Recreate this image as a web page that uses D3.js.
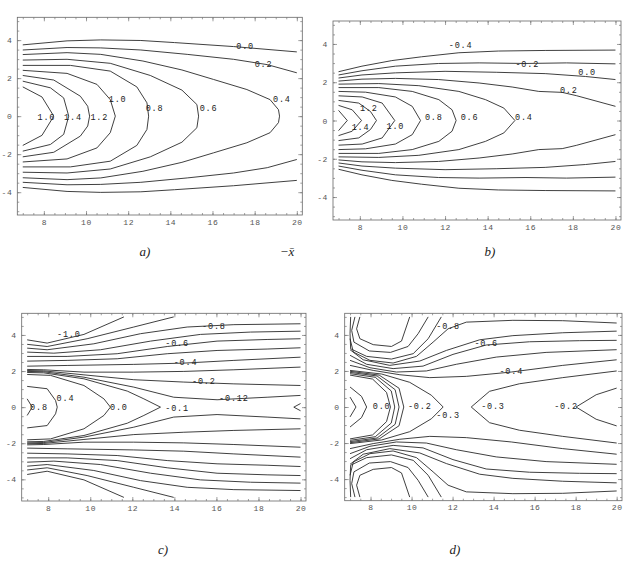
<!DOCTYPE html>
<html><head><meta charset="utf-8">
<script src="https://cdn.jsdelivr.net/npm/d3@7"></script>
<style>body{margin:0;background:#fff}</style>
</head><body>
<script>
// ---------- data ----------
const xTicks = [8, 10, 12, 14, 16, 18, 20];
const yTicks = [-4, -2, 0, 2, 4];
const captionTexts = ["a)", "\u2212x\u0304", "b)", "c)", "d)"];

// upper half of every contour ([x, y] in data units); lower half is its mirror image (symmetric field)
// kind "tip": curve crosses y = 0 at its last point; kind "open": separate upper and lower branches
const contoursA = [
  {level: 0.0, kind: "open", pts: [[7,3.75],[9.1,3.96],[10.7,4.01],[12.6,3.98],[14.2,3.87],[17,3.66],[20,3.38]]},
  {level: 0.2, kind: "open", pts: [[7,3.48],[9.1,3.61],[10.7,3.59],[12.6,3.48],[14.8,3.25],[17,2.99],[18.6,2.71],[20,2.28]]},
  {level: 0.4, kind: "tip", pts: [[7,3.24],[9.1,3.34],[10.7,3.25],[12.7,2.9],[14.55,2.43],[16.05,1.93],[17.63,1.40],[18.73,0.87],[19.13,0.34],[19.18,0]]},
  {level: 0.6, kind: "tip", pts: [[7,2.95],[9.1,2.99],[11.15,2.78],[13.05,2.14],[14.55,1.37],[15.26,0.61],[15.34,0]]},
  {level: 0.8, kind: "tip", pts: [[7,2.67],[9.26,2.67],[11.15,2.37],[12.41,1.54],[12.89,0.70],[12.97,0]]},
  {level: 1.0, kind: "tip", pts: [[7,2.41],[9.1,2.25],[10.52,1.67],[11.15,0.87],[11.39,0]]},
  {level: 1.2, kind: "tip", pts: [[7,2.14],[8.47,1.90],[9.73,1.05],[10.08,0.52],[10.17,0]]},
  {level: 1.4, kind: "tip", pts: [[7,1.84],[8.31,1.49],[8.94,0.96],[9.18,0]]},
  {level: 1.6, kind: "tip", pts: [[7,1.54],[7.91,1.01],[8.47,0]]}
];
const labelsA = [["0.0",17.55,3.66],["0.2",18.42,2.71],["0.4",19.29,0.84],["0.6",15.81,0.38],["0.8",13.25,0.38],
  ["1.0",11.5,0.87],["1.2",10.63,-0.1],["1.4",9.38,-0.1],["1.6",8.12,-0.1]];

const contoursB = [
  {level: -0.4, kind: "open", pts: [[7,2.55],[8.1,2.84],[9.5,3.13],[10.9,3.33],[12.65,3.54],[14.5,3.63],[16.7,3.66],[20,3.68]]},
  {level: -0.2, kind: "open", pts: [[7,2.38],[8.1,2.6],[9.67,2.84],[11.7,2.98],[13.6,3.01],[15.8,2.98],[17.7,3.01],[20,2.96]]},
  {level: 0.0, kind: "open", pts: [[7,2.22],[8.1,2.38],[9.67,2.49],[12,2.57],[14.4,2.52],[16.7,2.45],[18.6,2.3],[20,2.14]]},
  {level: 0.2, kind: "open", pts: [[7,2.06],[8.1,2.16],[9.67,2.2],[11.7,2.14],[13.6,1.96],[15.15,1.75],[16.4,1.52],[17.5,1.47],[18.16,1.3],[20,0.74]]},
  {level: 0.4, kind: "tip", pts: [[7,1.90],[8.89,1.93],[10.77,1.82],[12.65,1.52],[13.9,1.09],[14.76,0.65],[15.28,0]]},
  {level: 0.6, kind: "tip", pts: [[7,1.72],[8.89,1.72],[10.46,1.52],[11.71,1.09],[12.33,0.56],[12.52,0]]},
  {level: 0.8, kind: "tip", pts: [[7,1.52],[8.27,1.48],[9.67,1.23],[10.46,0.74],[10.85,0]]},
  {level: 1.0, kind: "tip", pts: [[7,1.29],[8.11,1.23],[9.05,0.91],[9.64,0]]},
  {level: 1.2, kind: "tip", pts: [[7,1.05],[7.95,0.91],[8.5,0.47],[8.78,0]]},
  {level: 1.4, kind: "tip", pts: [[7,0.79],[7.64,0.56],[8.08,0]]},
  {level: 1.6, kind: "tip", pts: [[7,0.53],[7.41,0]]}
];
const labelsB = [["-0.4",12.73,3.89],["-0.2",15.86,2.92],["0.0",18.67,2.49],["0.2",17.81,1.52],["1.2",8.42,0.6],
  ["1.4",8.03,-0.4],["1.0",9.67,-0.35],["0.8",11.47,0.12],["0.6",13.15,0.12],["0.4",15.7,0.12]];

const contoursC = [
  {level: -1.0, kind: "open", pts: [[7,3.73],[7.95,3.55],[9.7,4.03],[11.6,5.0]]},
  {level: -0.9, kind: "open", pts: [[7,3.48],[7.95,3.36],[9.85,3.79],[12.07,4.44],[13.97,5.0]]},
  {level: -0.8, kind: "open", pts: [[7,3.27],[7.95,3.18],[10.17,3.51],[12.39,4.07],[14.61,4.44],[16.83,4.57],[20,4.62]]},
  {level: -0.7, kind: "open", pts: [[7,3.05],[8.27,2.99],[10.49,3.18],[12.87,3.66],[15.24,4.03],[17.62,4.16],[20,4.21]]},
  {level: -0.6, kind: "open", pts: [[7,2.81],[8.9,2.81],[11.28,2.96],[13.66,3.36],[16.03,3.66],[18.41,3.75],[20,3.79]]},
  {level: -0.5, kind: "open", pts: [[7,2.55],[8.9,2.59],[11.28,2.68],[13.66,2.96],[16.03,3.14],[18.41,3.22],[20,3.29]]},
  {level: -0.4, kind: "open", pts: [[7,2.27],[8.9,2.31],[12.07,2.37],[14.45,2.44],[16.83,2.59],[20,2.77]]},
  {level: -0.3, kind: "open", pts: [[7,2.09],[7.79,2.07],[9.7,1.94],[12.07,1.94],[14.45,1.98],[16.83,2.07],[20,2.22]]},
  {level: -0.2, kind: "open", pts: [[7,2.03],[7.79,2.01],[9.7,1.79],[12.07,1.52],[14.45,1.39],[16.83,1.29],[20,1.2]]},
  {level: -0.12, kind: "open", pts: [[7,1.98],[7.79,1.96],[9.7,1.66],[12.07,1.11],[13.97,0.55],[16.03,0.41],[18.41,0.55],[20,0.65]]},
  {level: -0.1, kind: "tip", pts: [[7,1.92],[7.79,1.90],[9.7,1.57],[11.76,0.89],[12.55,0.46],[13.34,0]]},
  {level: 0.0, kind: "tip", pts: [[7,1.81],[8.11,1.76],[9.7,1.2],[10.65,0.46],[10.96,0]]},
  {level: 0.4, kind: "tip", pts: [[7,1.15],[7.95,1.02],[8.35,0.37],[8.43,0]]},
  {level: 0.8, kind: "tip", pts: [[7,0.46],[7.24,0]]},
  {level: -0.1, kind: "tip", pts: [[20,0.2],[19.68,0]]}
];
const labelsC = [["-1.0",8.98,3.97],["-0.8",15.88,4.44],["-0.6",14.13,3.48],["-0.4",14.53,2.44],["-0.2",15.4,1.42],
  ["-0.12",16.83,0.43],["0.8",7.56,-0.04],["0.4",8.82,0.46],["0.0",11.36,-0.04],["-0.1",14.13,-0.09]];

const contoursD = [
  {level: -1.1, kind: "open", pts: [[7.48,5.0],[7.32,4.34],[7.48,3.79],[8.13,3.46],[9.02,3.36],[9.51,3.66],[9.91,5.0]]},
  {level: -1.0, kind: "open", pts: [[7.24,5.0],[7.08,4.25],[7.19,3.60],[7.94,3.11],[8.97,3.03],[9.83,3.36],[10.32,4.07],[10.81,5.0]]},
  {level: -0.9, kind: "open", pts: [[7.03,5.0],[7,4.07],[7.03,3.23],[7.81,2.81],[9.02,2.66],[10.08,2.96],[10.81,3.79],[11.45,5.0]]},
  {level: -0.8, kind: "open", pts: [[7,3.79],[7.16,3.05],[7.97,2.59],[9.10,2.44],[10.24,2.81],[11.05,3.60],[11.78,4.34],[12.67,4.71],[14.94,4.81],[17.37,4.79],[20,4.66]]},
  {level: -0.7, kind: "open", pts: [[7,3.18],[7.64,2.62],[8.94,2.31],[10.40,2.55],[11.70,3.14],[13.32,3.73],[14.94,3.96],[17.37,4.12],[20,4.21]]},
  {level: -0.6, kind: "open", pts: [[7,2.87],[7.81,2.37],[9.10,2.13],[10.56,2.27],[12.02,2.92],[13.64,3.44],[15.75,3.62],[18.18,3.68],[20,3.70]]},
  {level: -0.5, kind: "open", pts: [[7,2.59],[7.97,2.18],[9.26,1.94],[10.72,2.0],[12.18,2.37],[14.13,2.77],[16.56,3.03],[20,3.18]]},
  {level: -0.4, kind: "open", pts: [[7,2.31],[8.13,2.03],[9.43,1.79],[10.89,1.63],[12.67,1.70],[14.86,1.94],[17.37,2.31],[20,2.62]]},
  {level: -0.3, kind: "tip", pts: [[20,2.0],[17.37,1.63],[15.26,1.29],[13.8,0.87],[12.91,0]]},
  {level: -0.2, kind: "tip", pts: [[20,1.05],[19,0.68],[18.02,0]]},
  {level: -0.2, kind: "tip", pts: [[7,2.03],[8.54,1.83],[9.91,1.37],[10.97,0.65],[11.54,0]]},
  {level: -0.15, kind: "tip", pts: [[7,1.98],[8.42,1.77],[9.39,1.04],[9.62,0]]},
  {level: -0.1, kind: "tip", pts: [[7,1.92],[8.32,1.72],[9.20,0.96],[9.39,0]]},
  {level: -0.05, kind: "tip", pts: [[7,1.85],[8.23,1.65],[9.01,0.89],[9.18,0]]},
  {level: 0.0, kind: "tip", pts: [[7,1.77],[8.10,1.55],[8.78,0.81],[8.97,0]]},
  {level: 0.2, kind: "tip", pts: [[7,1.11],[7.56,0.59],[7.81,0]]},
  {level: 0.4, kind: "tip", pts: [[7,0.55],[7.29,0]]}
];
const labelsD = [["-0.8",11.78,4.44],["-0.6",13.64,3.48],["-0.4",14.86,1.94],["0.0",8.54,0],["-0.2",10.40,0],
  ["-0.3",11.78,-0.52],["-0.3",13.97,0],["-0.2",17.53,0]];

// ---------- layout ----------
const X_DOMAIN = [6.74, 20.26], Y_DOMAIN = [-5.2, 5.2];
const panels = [
  {id: "a", f: {l: 17.3, r: 302.3, t: 17.3, b: 215}, contours: contoursA, labels: labelsA},
  {id: "b", f: {l: 333, r: 621, t: 21, b: 220}, contours: contoursB, labels: labelsB},
  {id: "c", f: {l: 21.7, r: 306, t: 313.3, b: 501}, contours: contoursC, labels: labelsC},
  {id: "d", f: {l: 344.7, r: 622, t: 313.3, b: 500.7}, contours: contoursD, labels: labelsD}
];
const captionPos = [[145, 251], [287, 251], [490, 251], [163, 549], [455, 549]];

const MONO = "'Liberation Mono', 'DejaVu Sans Mono', monospace";
const svg = d3.select("body").append("svg").attr("width", 626).attr("height", 564)
  .style("background", "#fff");

const fmt = d => String(d);
const minorX = d3.range(7, 20.01, 0.5);
const minorY = d3.range(-5, 5.01, 0.5);

function styleAxis(sel, withText) {
  sel.select(".domain").remove();
  sel.selectAll(".tick line").attr("stroke", "#777").attr("stroke-width", 0.7);
  sel.attr("font-family", MONO).attr("font-size", 8);
  sel.selectAll(".tick text").attr("fill", "#555").style("letter-spacing", "0.6px");
  if (!withText) sel.selectAll(".tick text").remove();
}

panels.forEach(p => {
  const f = p.f;
  const x = d3.scaleLinear().domain(X_DOMAIN).range([f.l, f.r]);
  const y = d3.scaleLinear().domain(Y_DOMAIN).range([f.b, f.t]);
  const g = svg.append("g");
  const line = d3.line().x(d => x(d[0])).y(d => y(d[1]));

  const lg = g.append("g").attr("fill", "none").attr("stroke", "#2a2a2a")
    .attr("stroke-width", 0.9).attr("stroke-linejoin", "round");
  p.contours.forEach(c => {
    const up = c.pts;
    const down = up.map(([a, b]) => [a, -b]);
    if (c.kind === "tip") {
      const full = up.concat(down.slice(0, -1).reverse());
      lg.append("path").attr("d", line(full));
    } else {
      lg.append("path").attr("d", line(up));
      lg.append("path").attr("d", line(down));
    }
  });

  // frame
  g.append("rect").attr("x", f.l).attr("y", f.t).attr("width", f.r - f.l).attr("height", f.b - f.t)
    .attr("fill", "none").attr("stroke", "#666").attr("stroke-width", 0.8);

  // ticks (inward) on all sides
  g.append("g").attr("transform", `translate(0,${f.b})`)
    .call(d3.axisBottom(x).tickValues(xTicks).tickSizeInner(-4).tickSizeOuter(0).tickPadding(4).tickFormat(fmt))
    .call(s => styleAxis(s, true));
  g.append("g").attr("transform", `translate(0,${f.b})`)
    .call(d3.axisBottom(x).tickValues(minorX).tickSizeInner(-2).tickSizeOuter(0).tickFormat(""))
    .call(s => styleAxis(s, false));
  g.append("g").attr("transform", `translate(0,${f.t})`)
    .call(d3.axisTop(x).tickValues(xTicks).tickSizeInner(-4).tickSizeOuter(0).tickFormat(""))
    .call(s => styleAxis(s, false));
  g.append("g").attr("transform", `translate(0,${f.t})`)
    .call(d3.axisTop(x).tickValues(minorX).tickSizeInner(-2).tickSizeOuter(0).tickFormat(""))
    .call(s => styleAxis(s, false));
  g.append("g").attr("transform", `translate(${f.l},0)`)
    .call(d3.axisLeft(y).tickValues(yTicks).tickSizeInner(-4).tickSizeOuter(0).tickPadding(5).tickFormat(fmt))
    .call(s => styleAxis(s, true));
  g.append("g").attr("transform", `translate(${f.l},0)`)
    .call(d3.axisLeft(y).tickValues(minorY).tickSizeInner(-2).tickSizeOuter(0).tickFormat(""))
    .call(s => styleAxis(s, false));
  g.append("g").attr("transform", `translate(${f.r},0)`)
    .call(d3.axisRight(y).tickValues(yTicks).tickSizeInner(-4).tickSizeOuter(0).tickFormat(""))
    .call(s => styleAxis(s, false));
  g.append("g").attr("transform", `translate(${f.r},0)`)
    .call(d3.axisRight(y).tickValues(minorY).tickSizeInner(-2).tickSizeOuter(0).tickFormat(""))
    .call(s => styleAxis(s, false));

  // contour labels
  g.append("g").selectAll("text").data(p.labels).join("text")
    .attr("x", d => x(d[1])).attr("y", d => y(d[2]))
    .attr("text-anchor", "middle").attr("dominant-baseline", "central")
    .attr("font-family", MONO).attr("font-size", 8.5).attr("fill", "#222")
    .style("letter-spacing", "0.8px")
    .text(d => d[0]);
});

// captions
svg.append("g").selectAll("text").data(captionTexts).join("text")
  .attr("x", (d, i) => captionPos[i][0]).attr("y", (d, i) => captionPos[i][1])
  .attr("text-anchor", "middle").attr("dominant-baseline", "central")
  .attr("font-family", "'Liberation Serif', 'DejaVu Serif', serif").attr("font-style", "italic")
  .attr("font-size", 13).attr("fill", "#222")
  .text(d => d);
</script>
</body></html>
